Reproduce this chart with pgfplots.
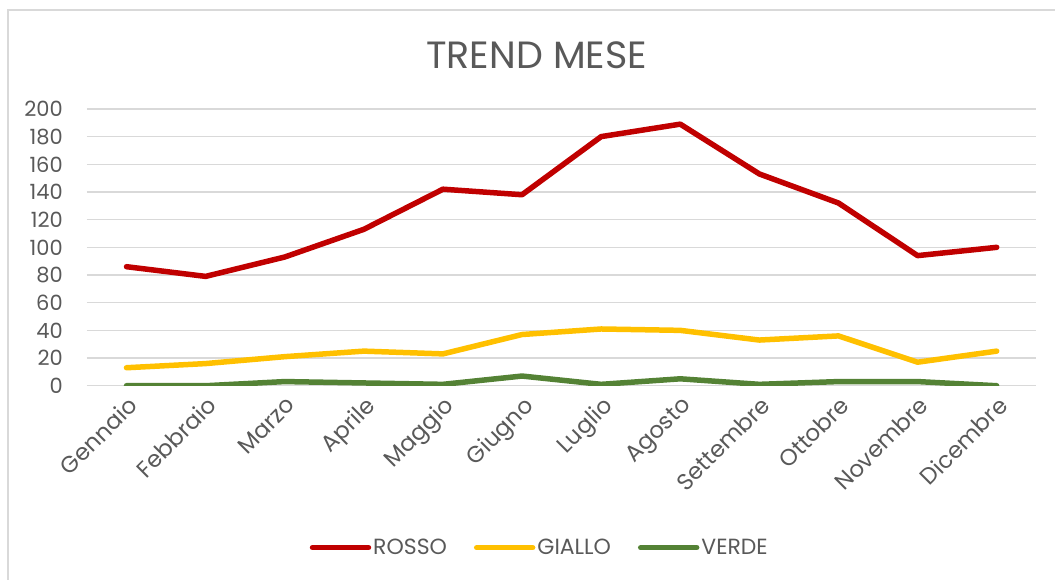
\documentclass[border=0pt]{standalone}
\usepackage{pgfplots}
\pgfplotsset{compat=1.18}
\usepackage{fontspec}
\setmainfont{Poppins}
\definecolor{rosso}{HTML}{C00000}
\definecolor{giallo}{HTML}{FFC000}
\definecolor{verde}{HTML}{548235}
\definecolor{testo}{HTML}{595959}
\definecolor{griglia}{HTML}{D9D9D9}
\begin{document}
\begin{tikzpicture}[x=1pt,y=1pt]
\begin{axis}[
    name=ax, at={(0,0)}, anchor=south west,
    scale only axis, width=950pt, height=277pt,
    xmin=-0.5, xmax=11.5, ymin=0, ymax=200,
    xtick={0,...,11},
    xticklabels={Gennaio,Febbraio,Marzo,Aprile,Maggio,Giugno,Luglio,Agosto,Settembre,Ottobre,Novembre,Dicembre},
    ytick={0,20,...,200},
    axis line style={draw=none},
    major tick length=0pt,
    ymajorgrids,
    grid style={color=griglia, line width=1.5pt},
    tick label style={font=\fontsize{21}{25}\selectfont, text=testo},
    /pgf/number format/assume math mode=true,
    yticklabel style={anchor=east, inner sep=0pt, xshift=-24pt},
    xticklabel style={rotate=45, anchor=north east, inner sep=0pt, font=\fontsize{23}{27}\selectfont},
    xticklabel shift=9pt,
    legend style={draw=none, fill=none, legend columns=-1,
        at={(0.477,-0.585)}, anchor=center,
        font=\fontsize{22}{26}\selectfont, text=testo,
        nodes={inner sep=2pt},
        /tikz/every even column/.append style={column sep=25pt}},
    legend image code/.code={\draw[#1, line width=5.5pt, line cap=round] (0pt,0pt) -- (56pt,0pt);},
    every axis plot/.append style={line width=5.5pt, line cap=round, line join=round},
]
\addplot[rosso] coordinates {(0,86) (1,79) (2,93) (3,113) (4,142) (5,138) (6,180) (7,189) (8,153) (9,132) (10,94) (11,100)};
\addlegendentry{ROSSO}
\addplot[giallo] coordinates {(0,13) (1,16) (2,21) (3,25) (4,23) (5,37) (6,41) (7,40) (8,33) (9,36) (10,17) (11,25)};
\addlegendentry{GIALLO}
\addplot[verde] coordinates {(0,0) (1,0) (2,3) (3,2) (4,1) (5,7) (6,1) (7,5) (8,1) (9,3) (10,3) (11,0)};
\addlegendentry{VERDE}
\end{axis}
\node[text=testo, font=\fontsize{38}{44}\selectfont] at (450,331) {TREND MESE};
\draw[griglia, line width=1.5pt] (-79,-194) -- (-79,376) -- (969,376);
\path[use as bounding box] (-87,-194) rectangle (969,386);
\end{tikzpicture}
\end{document}
